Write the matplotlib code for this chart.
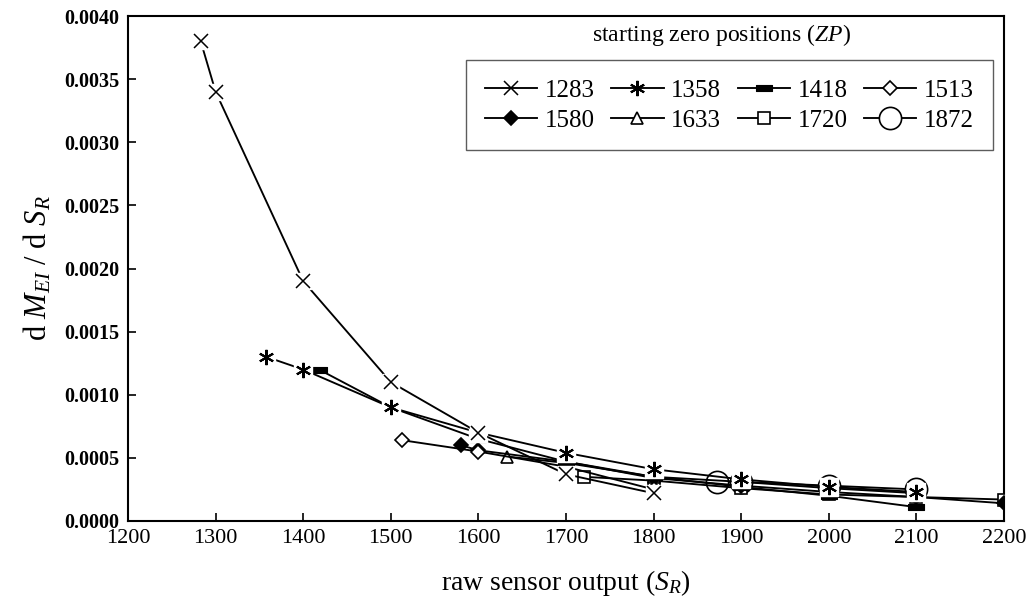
import matplotlib
matplotlib.use("Agg")
import matplotlib.pyplot as plt
from matplotlib.path import Path
from matplotlib.lines import Line2D

plt.rcParams['font.family'] = ['Liberation Serif', 'DejaVu Serif']
plt.rcParams['mathtext.fontset'] = 'custom'
plt.rcParams['mathtext.rm'] = 'Liberation Serif'
plt.rcParams['mathtext.it'] = 'Liberation Serif:italic'
plt.rcParams['mathtext.bf'] = 'Liberation Serif:bold'

# derivative of the EI estimate vs raw sensor output, one series per starting zero position
zp_labels = ['1283', '1358', '1418', '1513', '1580', '1633', '1720', '1872']

x_1283 = [1283, 1300, 1400, 1500, 1600, 1700, 1800]
y_1283 = [0.0038, 0.0034, 0.0019, 0.0011, 0.0007, 0.00037, 0.00022]

x_1358 = [1358, 1400, 1500, 1600, 1700, 1800, 1900, 2000, 2100]
y_1358 = [0.0013, 0.0012, 0.0009, 0.0007, 0.00054, 0.00041, 0.00033, 0.00027, 0.00023]

x_1418 = [1418, 1500, 1600, 1700, 1800, 1900, 2000, 2100]
y_1418 = [0.0012, 0.0009, 0.00065, 0.00047, 0.00035, 0.00027, 0.0002, 0.00011]

x_1513 = [1513, 1600, 1700, 1800]
y_1513 = [0.00064, 0.00055, 0.00043, 0.00025]

x_1580 = [1580, 1600, 1700, 1800, 1900, 2000, 2100, 2200]
y_1580 = [0.0006, 0.00056, 0.00047, 0.00034, 0.00028, 0.00023, 0.00019, 0.00014]

x_1633 = [1633, 1700, 1800, 1900, 2000, 2100]
y_1633 = [0.00051, 0.00046, 0.00035, 0.00031, 0.00026, 0.00022]

x_1720 = [1720, 1800, 1900, 2000, 2100, 2200]
y_1720 = [0.00035, 0.00032, 0.00026, 0.00021, 0.00019, 0.00017]

x_1872 = [1872, 1900, 2000, 2100]
y_1872 = [0.00031, 0.00031, 0.00028, 0.00025]

x_ticks = list(range(1200, 2201, 100))
y_ticks = [0.0, 0.0005, 0.0010, 0.0015, 0.0020, 0.0025, 0.0030, 0.0035, 0.0040]

# flat bar marker
bar_marker = Path([(-1.0, -0.45), (1.0, -0.45), (1.0, 0.45), (-1.0, 0.45), (-1.0, -0.45)],
                  [Path.MOVETO, Path.LINETO, Path.LINETO, Path.LINETO, Path.CLOSEPOLY])
asterisk = (6, 2, 0)

series = [
    (x_1283, y_1283, dict(marker='x', ms=10, mfc='none', mew=1.1), True),
    (x_1358, y_1358, dict(marker=asterisk, ms=11, mew=1.5), True),
    (x_1418, y_1418, dict(marker=bar_marker, ms=11, mfc='black', mew=0.8), False),
    (x_1513, y_1513, dict(marker='D', ms=7, mfc='white', mew=1.2), False),
    (x_1580, y_1580, dict(marker='D', ms=7, mfc='black', mew=1.2), False),
    (x_1633, y_1633, dict(marker='^', ms=9, mfc='white', mew=1.2), False),
    (x_1720, y_1720, dict(marker='s', ms=9, mfc='white', mew=1.2), False),
    (x_1872, y_1872, dict(marker='o', ms=16, mfc='white', mew=1.2), False),
]

LW = 1.35

fig = plt.figure(figsize=(10.35, 6.05), dpi=100)
ax = fig.add_axes([128 / 1035, 1 - 521 / 605, 876 / 1035, 505 / 605])

handles = []
n = len(series)
for i, (xs, ys, mk, knockout) in enumerate(series):
    z = 10 + 3 * (n - i)
    ax.plot(xs, ys, color='black', lw=LW, zorder=z, solid_joinstyle='miter')
    if knockout:
        ax.plot(xs, ys, ls='none', marker='s', ms=mk['ms'] + 2, mfc='white', mec='white', zorder=z + 1)
    ax.plot(xs, ys, ls='none', color='black', mec='black', zorder=z + 2, **mk)
    handles.append(Line2D([], [], color='black', lw=LW, **mk))

ax.set_xlim(1200, 2200)
ax.set_ylim(0, 0.004)
ax.set_xticks(x_ticks)
ax.set_yticks(y_ticks)
ax.set_yticklabels([f'{v:.4f}' for v in y_ticks], fontweight='bold', fontsize=14.5)
ax.set_xticklabels([str(v) for v in x_ticks], fontsize=16)
ax.tick_params(direction='in', length=6, width=1.2, pad=6)
for s in ax.spines.values():
    s.set_linewidth(1.5)

ax.set_xlabel(r'raw sensor output ($\mathit{S}_{\mathit{R}}$)', fontsize=20, labelpad=14)
ax.set_ylabel(r'd $\mathit{M}_{\mathit{EI}}$ / d $\mathit{S}_{\mathit{R}}$', fontsize=22, labelpad=8)

# legend filled row by row (matplotlib fills columns first)
ncol, nrow = 4, 2
order = [r * ncol + c for c in range(ncol) for r in range(nrow)]
leg = ax.legend([handles[k] for k in order], [zp_labels[k] for k in order],
                ncol=ncol, loc='upper left',
                bbox_to_anchor=(0.386, 0.912, 0.601, 0.0), mode='expand',
                fontsize=18, handlelength=2.1, handletextpad=0.3, columnspacing=0.6,
                borderpad=0.75, labelspacing=0.3, frameon=True, fancybox=False,
                borderaxespad=0.0)
leg.get_frame().set_edgecolor('#333333')
leg.get_frame().set_linewidth(1.0)
leg.set_zorder(50)

ax.text(0.678, 0.962, r'starting zero positions ($\mathit{ZP}$)', transform=ax.transAxes,
        ha='center', va='center', fontsize=17, zorder=60)

fig.savefig('out.png', dpi=100)
